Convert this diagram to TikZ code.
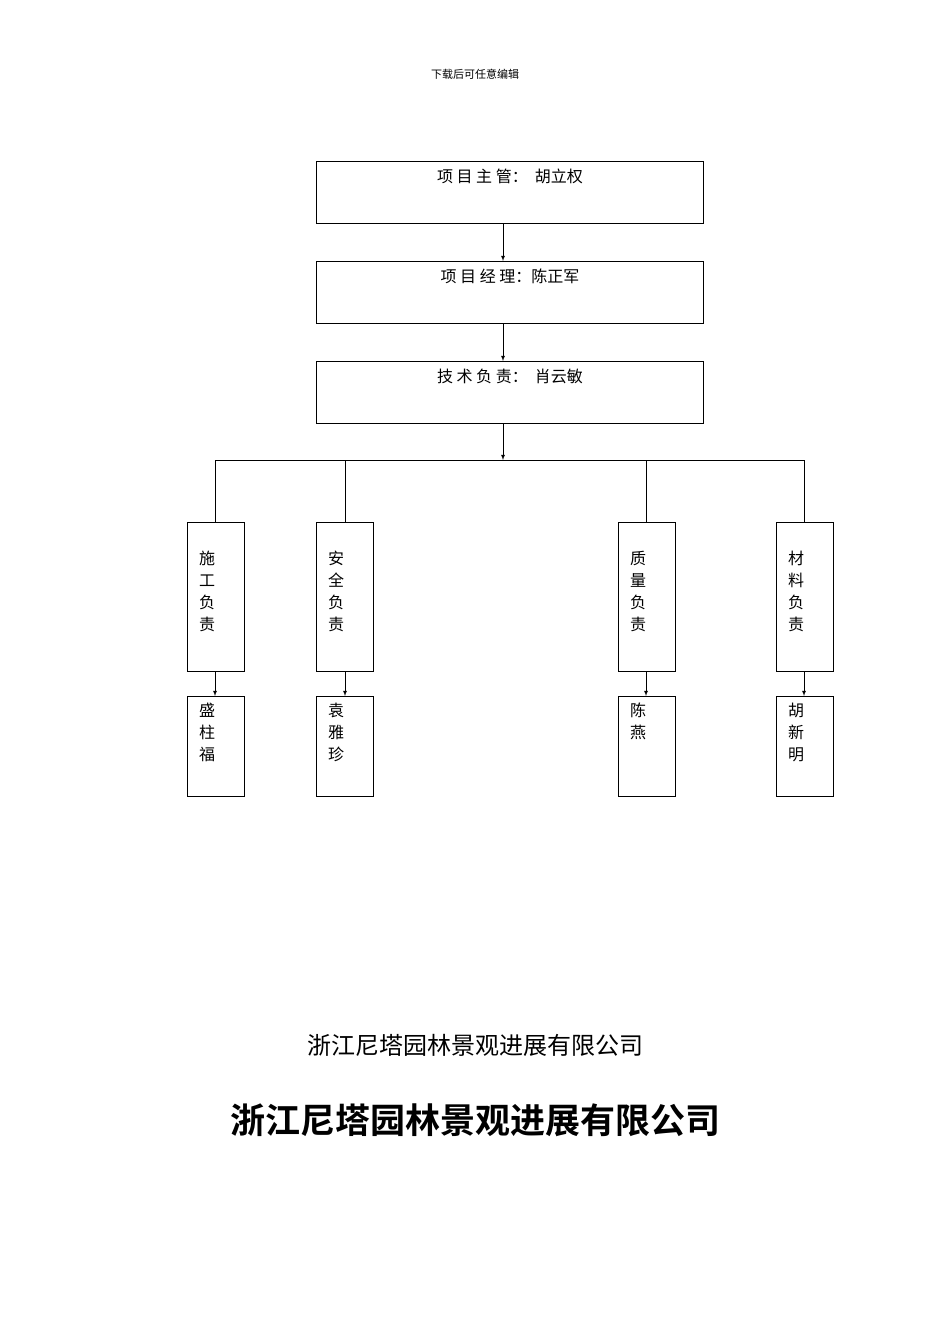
\documentclass[tikz,border=0pt]{standalone}
\usepackage{fontspec}
\setmainfont{Noto Sans CJK SC}
\newfontfamily\cjkb{Noto Sans CJK SC Bold}
\begin{document}
\begin{tikzpicture}[x=1pt,y=-1pt,
  bigbox/.style={draw,line width=0.8pt,minimum width=387pt,minimum height=62pt,anchor=north west,inner sep=0pt},
  smallbox/.style={draw,line width=0.8pt,minimum width=57pt,anchor=north west,inner sep=0pt},
  lbl/.style={font=\fontsize{16}{22}\selectfont,anchor=north,inner sep=0pt},
  vlbl/.style={font=\fontsize{16}{22}\selectfont,anchor=north west,inner sep=0pt,align=left},
  arr/.style={-latex,line width=0.8pt},
  ln/.style={line width=0.8pt}]
\useasboundingbox (0,0) rectangle (950,1344);
\node[font=\fontsize{11}{13}\selectfont] (hdr) at (475,74) {下载后可任意编辑};
\node[bigbox,minimum height=62pt] (b1) at (316,161) {};
\node[bigbox] (b2) at (316,261) {};
\node[bigbox] (b3) at (316,361) {};
\node[lbl] (t1) at (510,169) {项\ 目\ 主\ 管：\ \ 胡立权};
\node[lbl] (t2) at (510,269) {项\ 目\ 经\ 理：陈正军};
\node[lbl] (t3) at (510,369) {技\ 术\ 负\ 责：\ \ 肖云敏};
\draw[arr] (503,223) -- (503,261);
\draw[arr] (503,323) -- (503,361);
\coordinate (j) at (503,460);
\draw[arr] (503,423) -- (j);
\coordinate (hl) at (215,460);
\coordinate (hr) at (804,460);
\draw[ln] (hl) -- (hr);
\foreach \n/\x/\cx/\ta/\tb in {a/187/215/施\\工\\负\\责/盛\\柱\\福, b/316/345/安\\全\\负\\责/袁\\雅\\珍, c/618/646/质\\量\\负\\责/陈\\燕, d/776/804/材\\料\\负\\责/胡\\新\\明}{
  \node[smallbox,minimum height=149pt] (s\n) at (\x,522) {};
  \node[smallbox,minimum height=100pt] (p\n) at (\x,696) {};
  \node[vlbl] (ts\n) at (\x+12,551) {\ta};
  \node[vlbl] (tp\n) at (\x+12,703) {\tb};
  \draw[ln] (\cx,460) -- (s\n.north -| \cx,0);
  \draw[arr] (s\n.south -| \cx,0) -- (p\n.north -| \cx,0);
}
\node[font=\fontsize{24}{28}\selectfont] (f1) at (475,1045) {浙江尼塔园林景观进展有限公司};
\node[font=\cjkb\fontsize{35}{40}\selectfont] (f2) at (475,1120) {浙江尼塔园林景观进展有限公司};
\end{tikzpicture}
\end{document}
